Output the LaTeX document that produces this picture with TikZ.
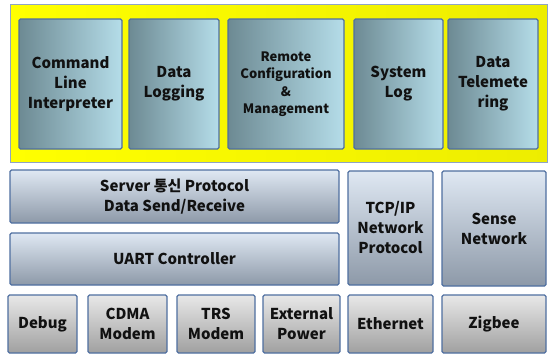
\documentclass[tikz,border=0pt]{standalone}
\usepackage{fontspec}
\setmainfont{Noto Sans CJK KR}
\newfontfamily\kr{Noto Sans CJK KR}
\definecolor{bordc}{HTML}{4F6FA0}
\definecolor{framec}{HTML}{8FA4C4}
\definecolor{topL}{HTML}{6D8A93}
\definecolor{topR}{HTML}{B5DDE9}
\definecolor{midT}{HTML}{DFE8F3}
\definecolor{midB}{HTML}{8D99A8}
\definecolor{botT}{HTML}{E8E8E8}
\definecolor{botB}{HTML}{A0A0A0}
\definecolor{txt}{HTML}{111111}
\tikzset{
  base/.style={draw=bordc, line width=1.2pt, rounded corners=1.5pt, inner sep=1pt, align=center, text=txt, font=\bfseries\fontsize{15}{20}\selectfont},
  topbox/.style={base, left color=topL, right color=topR},
  midbox/.style={base, top color=midT, bottom color=midB},
  botbox/.style={base, top color=botT, bottom color=botB},
}
\begin{document}
\begin{tikzpicture}[x=1pt,y=-1pt]
\useasboundingbox (0,0) rectangle (550,354);
% yellow frame
\node[draw=framec, line width=1pt, left color=yellow, right color=yellow!93!black, minimum width=537pt, minimum height=158pt, inner sep=0pt] (frame) at (278.5,83) {};
% top modules
\node[topbox, minimum width=103pt, minimum height=130pt] (cli) at (70.5,84) {Command\\Line\\Interpreter};
\node[topbox, minimum width=90pt, minimum height=130pt] (dlog) at (174,84) {Data\\Logging};
\node[topbox, minimum width=116pt, minimum height=130pt, font=\bfseries\fontsize{13}{17.5}\selectfont] (remote) at (286,84) {Remote\\Configuration\\\&\\Management};
\node[topbox, minimum width=89pt, minimum height=130pt] (syslog) at (398.5,84) {System\\Log};
\node[topbox, minimum width=90pt, minimum height=130pt] (telem) at (493,84) {Data\\Telemete\\ring};
% middle row
\node[midbox, minimum width=329pt, minimum height=53pt] (server) at (174.5,196.5) {Server {\kr 통신} Protocol\\Data Send/Receive};
\node[midbox, minimum width=329pt, minimum height=52pt] (uart) at (174.5,259) {UART Controller};
\node[midbox, minimum width=85pt, minimum height=114pt] (tcp) at (390.5,228) {TCP/IP\\Network\\Protocol};
\node[midbox, minimum width=104pt, minimum height=115pt] (sense) at (494,228.5) {Sense\\Network};
% bottom row
\node[botbox, minimum width=69pt, minimum height=58pt] (debug) at (42.5,324) {Debug};
\node[botbox, minimum width=79pt, minimum height=58pt] (cdma) at (127.5,324) {CDMA\\Modem};
\node[botbox, minimum width=78pt, minimum height=58pt] (trs) at (216,324) {TRS\\Modem};
\node[botbox, minimum width=77pt, minimum height=58pt] (ext) at (301.5,324) {External\\Power};
\node[botbox, minimum width=85pt, minimum height=58pt] (eth) at (390.5,324) {Ethernet};
\node[botbox, minimum width=104pt, minimum height=58pt] (zig) at (494,324) {Zigbee};
\end{tikzpicture}
\end{document}
